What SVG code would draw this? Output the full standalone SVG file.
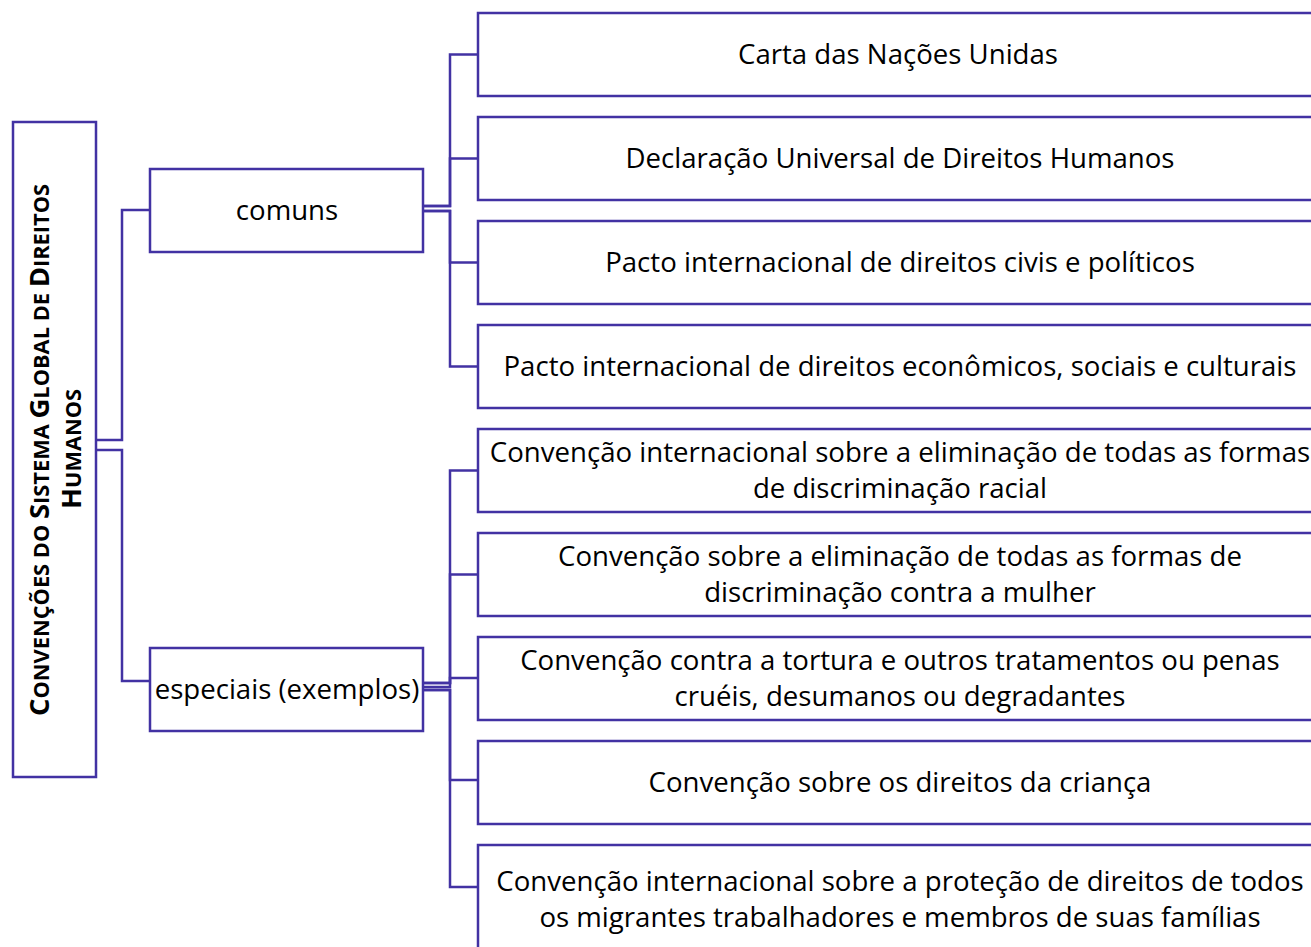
<svg xmlns="http://www.w3.org/2000/svg" width="1311" height="947" viewBox="0 0 1311 947">
<style>
.box{fill:#fff;stroke:#4232a3;stroke-width:2.5}
.con{fill:none;stroke:#4232a3;stroke-width:2.5}
.t{font-family:"Open Sans","Liberation Sans",sans-serif;font-size:27.6px;fill:#000;text-anchor:middle}
.r{font-family:"Open Sans","Liberation Sans",sans-serif;font-weight:bold;fill:#000;text-anchor:middle;font-size:27.5px}
.sc{font-size:21.8px}
</style>
<rect width="1311" height="947" fill="#fff"/>
<g id="connectors">
<path class="con" d="M96,440 H122 V210 H150"/>
<path class="con" d="M96,450 H122 V681 H150"/>
<path class="con" d="M423,206 H450 V54.5 H478"/>
<path class="con" d="M423,206 H450 V158.5 H478"/>
<path class="con" d="M423,211 H450 V262.5 H478"/>
<path class="con" d="M423,211 H450 V366.5 H478"/>
<path class="con" d="M423,683 H450 V470.5 H478"/>
<path class="con" d="M423,683 H450 V574.5 H478"/>
<path class="con" d="M423,687 H450 V678 H478"/>
<path class="con" d="M423,690 H450 V780 H478"/>
<path class="con" d="M423,690 H450 V887 H478"/>
</g>
<g id="root">
<rect class="box" x="13" y="122" width="83" height="655"/>
<text class="r" transform="translate(49,450) rotate(-90)">C<tspan class="sc">ONVENÇÕES DO </tspan>S<tspan class="sc">ISTEMA </tspan>G<tspan class="sc">LOBAL DE </tspan>D<tspan class="sc">IREITOS</tspan></text>
<text class="r" transform="translate(81,449) rotate(-90)">H<tspan class="sc">UMANOS</tspan></text>
</g>
<g id="comuns">
<rect class="box" x="150" y="169" width="273" height="83"/>
<text class="t" x="287" y="220">comuns</text>
</g>
<g id="especiais">
<rect class="box" x="150" y="648" width="273" height="83"/>
<text class="t" x="287" y="699">especiais (exemplos)</text>
</g>
<g id="n1">
<rect class="box" x="478" y="13" width="850" height="83"/>
<text class="t" x="898" y="64">Carta das Nações Unidas</text>
</g>
<g id="n2">
<rect class="box" x="478" y="117" width="850" height="83"/>
<text class="t" x="900" y="168">Declaração Universal de Direitos Humanos</text>
</g>
<g id="n3">
<rect class="box" x="478" y="221" width="850" height="83"/>
<text class="t" x="900" y="272">Pacto internacional de direitos civis e políticos</text>
</g>
<g id="n4">
<rect class="box" x="478" y="325" width="850" height="83"/>
<text class="t" x="900" y="376">Pacto internacional de direitos econômicos, sociais e culturais</text>
</g>
<g id="n5">
<rect class="box" x="478" y="429" width="850" height="83"/>
<text class="t" x="900" y="462">Convenção internacional sobre a eliminação de todas as formas</text>
<text class="t" x="900" y="498">de discriminação racial</text>
</g>
<g id="n6">
<rect class="box" x="478" y="533" width="850" height="83"/>
<text class="t" x="900" y="566">Convenção sobre a eliminação de todas as formas de</text>
<text class="t" x="900" y="602">discriminação contra a mulher</text>
</g>
<g id="n7">
<rect class="box" x="478" y="637" width="850" height="83"/>
<text class="t" x="900" y="670">Convenção contra a tortura e outros tratamentos ou penas</text>
<text class="t" x="900" y="706">cruéis, desumanos ou degradantes</text>
</g>
<g id="n8">
<rect class="box" x="478" y="741" width="850" height="83"/>
<text class="t" x="900" y="792">Convenção sobre os direitos da criança</text>
</g>
<g id="n9">
<rect class="box" x="478" y="845" width="850" height="120"/>
<text class="t" x="900" y="891">Convenção internacional sobre a proteção de direitos de todos</text>
<text class="t" x="900" y="927">os migrantes trabalhadores e membros de suas famílias</text>
</g>
</svg>
